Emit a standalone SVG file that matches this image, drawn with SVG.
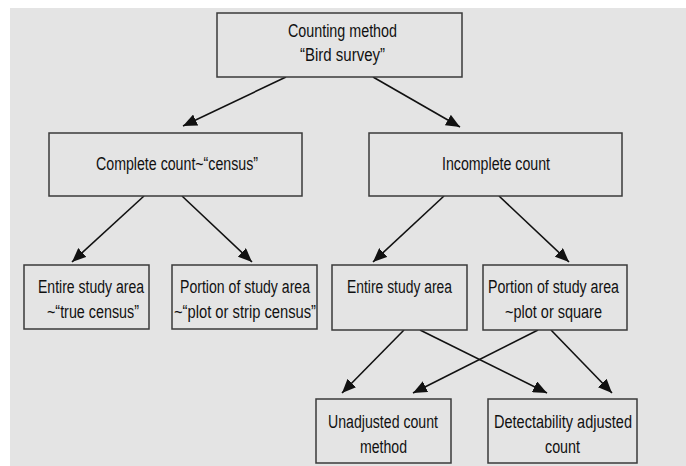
<svg xmlns="http://www.w3.org/2000/svg" width="686" height="466" viewBox="0 0 686 466">
<style>
.box{fill:#e4e4e4;stroke:#3a3a3a;stroke-width:1.5}
.t{font-family:"Liberation Sans",Arial,sans-serif;font-size:18px;fill:#111;text-anchor:middle}
.c{stroke:#111;stroke-width:1.6;fill:none;marker-end:url(#ah)}
</style>
<defs>
<marker id="ah" viewBox="0 0 14 12" refX="14" refY="6" markerWidth="14" markerHeight="12" markerUnits="userSpaceOnUse" orient="auto">
<path d="M0,0 L14,6 L0,12 Z" fill="#111"/>
</marker>
</defs>
<rect x="0" y="0" width="686" height="466" fill="#ffffff"/>
<rect x="10" y="8" width="676" height="458" fill="#e4e4e4"/>
<g id="connectors">
<line class="c" x1="286" y1="77" x2="183" y2="126"/>
<line class="c" x1="373" y1="77" x2="460" y2="127"/>
<line class="c" x1="144" y1="196" x2="72" y2="262"/>
<line class="c" x1="182" y1="196" x2="252" y2="262"/>
<line class="c" x1="444" y1="196" x2="373" y2="262"/>
<line class="c" x1="499" y1="196" x2="569" y2="262"/>
<line class="c" x1="404" y1="330" x2="342" y2="393"/>
<line class="c" x1="420" y1="330" x2="547" y2="393"/>
<line class="c" x1="538" y1="330" x2="413" y2="393"/>
<line class="c" x1="551" y1="330" x2="612" y2="393"/>
</g>
<g id="n-root">
<rect class="box" x="217" y="13" width="245" height="64"/>
<text class="t" x="342.5" y="37" textLength="109" lengthAdjust="spacingAndGlyphs">Counting method</text>
<text class="t" x="342.5" y="61" textLength="85" lengthAdjust="spacingAndGlyphs">“Bird survey”</text>
</g>
<g id="n-complete">
<rect class="box" x="49" y="133" width="253" height="63"/>
<text class="t" x="177" y="170" textLength="162" lengthAdjust="spacingAndGlyphs">Complete count~“census”</text>
</g>
<g id="n-incomplete">
<rect class="box" x="369" y="133" width="253" height="63"/>
<text class="t" x="496" y="170" textLength="108" lengthAdjust="spacingAndGlyphs">Incomplete count</text>
</g>
<g id="n-entire1">
<rect class="box" x="24" y="265" width="125" height="64"/>
<text class="t" x="91" y="293" textLength="106" lengthAdjust="spacingAndGlyphs">Entire study area</text>
<text class="t" x="93" y="318" textLength="92" lengthAdjust="spacingAndGlyphs">~“true census”</text>
</g>
<g id="n-portion1">
<rect class="box" x="172" y="265" width="145" height="64"/>
<text class="t" x="245" y="293" textLength="130" lengthAdjust="spacingAndGlyphs">Portion of study area</text>
<text class="t" x="245" y="318" textLength="142" lengthAdjust="spacingAndGlyphs">~“plot or strip census”</text>
</g>
<g id="n-entire2">
<rect class="box" x="332" y="265" width="135" height="65"/>
<text class="t" x="399.5" y="293" textLength="105" lengthAdjust="spacingAndGlyphs">Entire study area</text>
</g>
<g id="n-portion2">
<rect class="box" x="483" y="265" width="144" height="65"/>
<text class="t" x="553.5" y="293" textLength="131" lengthAdjust="spacingAndGlyphs">Portion of study area</text>
<text class="t" x="553.5" y="318" textLength="97" lengthAdjust="spacingAndGlyphs">~plot or square</text>
</g>
<g id="n-unadjusted">
<rect class="box" x="316" y="399" width="135" height="64"/>
<text class="t" x="383" y="428" textLength="110" lengthAdjust="spacingAndGlyphs">Unadjusted count</text>
<text class="t" x="383.5" y="453" textLength="47" lengthAdjust="spacingAndGlyphs">method</text>
</g>
<g id="n-detect">
<rect class="box" x="488" y="399" width="149" height="64"/>
<text class="t" x="563" y="428" textLength="138" lengthAdjust="spacingAndGlyphs">Detectability adjusted</text>
<text class="t" x="562.5" y="453" textLength="35" lengthAdjust="spacingAndGlyphs">count</text>
</g>
</svg>
